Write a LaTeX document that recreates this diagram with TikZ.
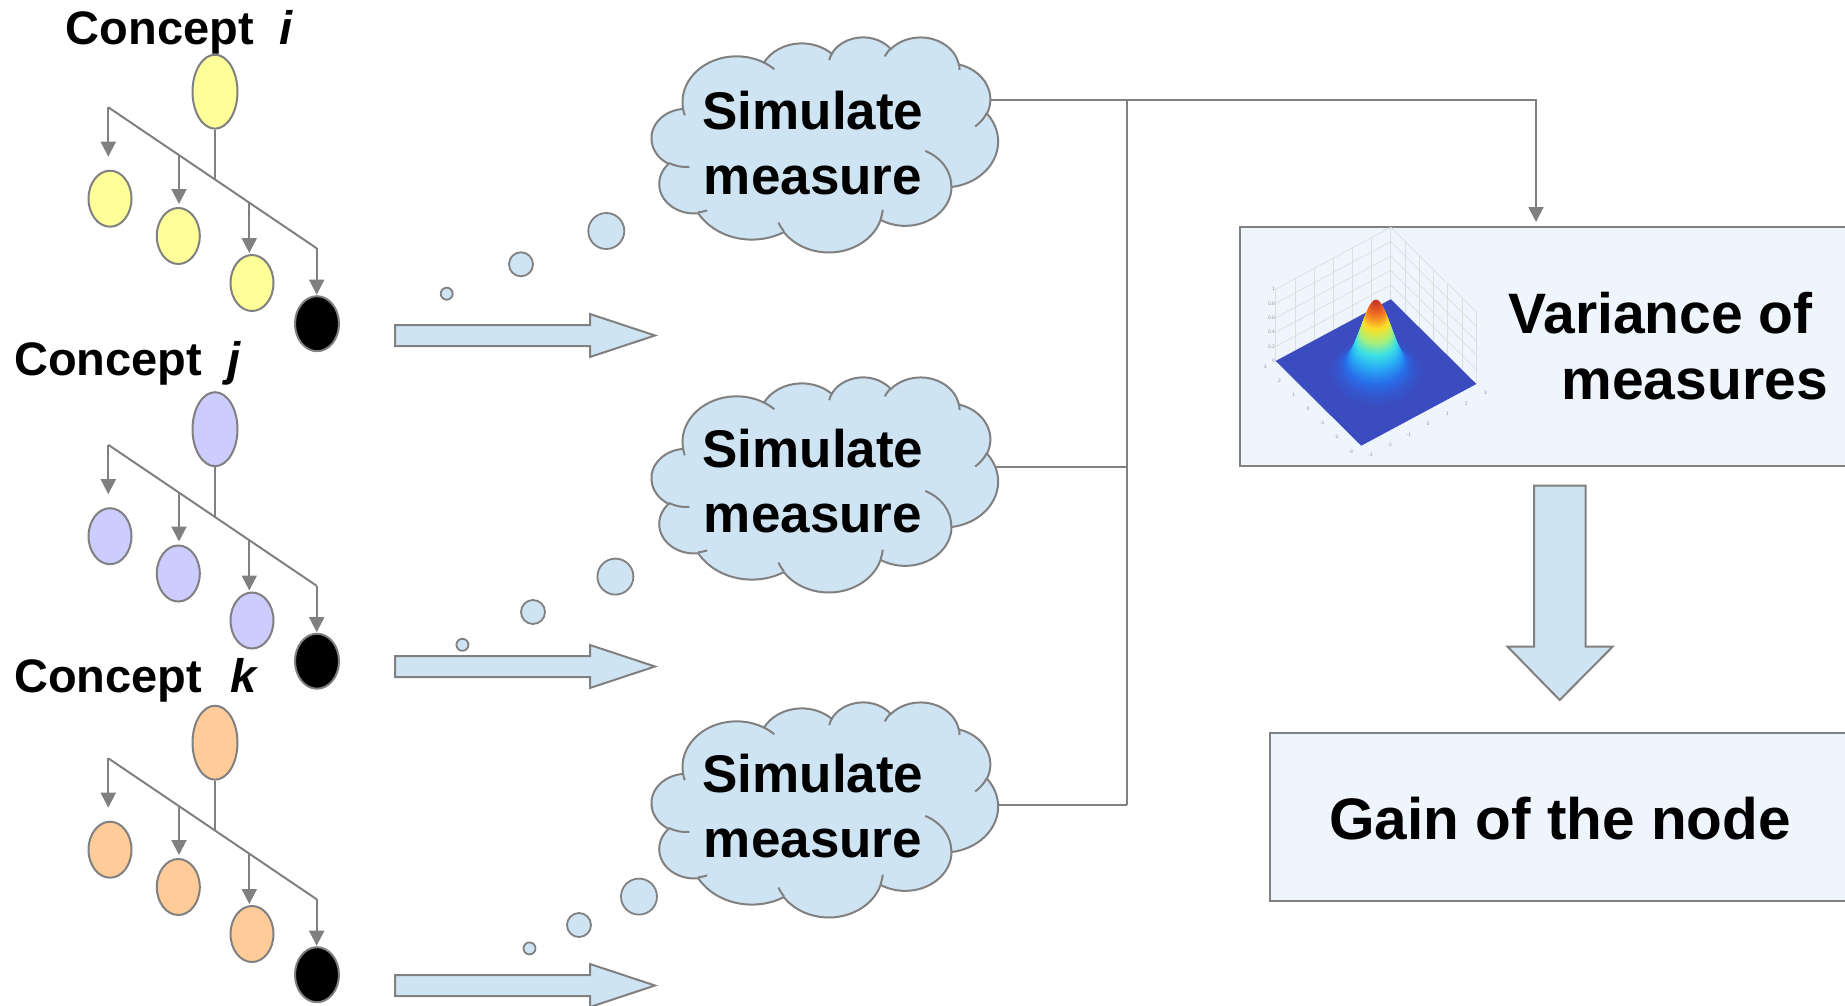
\documentclass[tikz,border=0pt]{standalone}
\usepackage{fontspec}
\setmainfont{Liberation Sans}
\usetikzlibrary{arrows.meta,shapes.geometric}

\definecolor{lineg}{RGB}{128,128,128}
\definecolor{skyfill}{RGB}{207,228,243}
\definecolor{boxfill}{RGB}{239,245,252}
\definecolor{nodeyellow}{RGB}{255,255,153}
\definecolor{nodelav}{RGB}{204,204,255}
\definecolor{nodepeach}{RGB}{255,204,153}
\definecolor{gridg}{RGB}{222,222,222}
\definecolor{tickg}{RGB}{150,150,150}
% colour stops for the surface plot
\definecolor{j0}{RGB}{58,76,192}
\definecolor{j1}{RGB}{40,110,235}
\definecolor{j2}{RGB}{40,170,245}
\definecolor{j3}{RGB}{60,225,230}
\definecolor{j4}{RGB}{170,240,120}
\definecolor{j5}{RGB}{250,225,40}
\definecolor{j6}{RGB}{245,120,35}
\definecolor{j7}{RGB}{200,50,40}

\tikzset{
  link/.style={draw=lineg, line width=2pt},
  tipped/.style={-{Triangle[width=15pt,length=15pt]}},
  concept/.style={ellipse, draw=lineg, line width=2pt, inner sep=0pt},
  rootnode/.style={concept, minimum width=45pt, minimum height=74pt},
  leafnode/.style={concept, minimum width=43pt, minimum height=56pt},
  cloudskin/.style={fill=skyfill, draw=lineg, line width=2pt},
  cloudcrease/.style={draw=lineg, line width=2pt},
  blockarrow/.style={fill=skyfill, draw=lineg, line width=2pt, line join=miter},
  bubble/.style={fill=skyfill, draw=lineg, line width=1.8pt},
  panel/.style={fill=boxfill, draw=lineg, line width=2pt, inner sep=0pt},
  simtext/.style={font=\fontsize{53}{65}\selectfont\bfseries, align=center, inner sep=0pt},
  conceptlabel/.style={font=\fontsize{47}{56}\selectfont\bfseries, anchor=base west, inner sep=0pt},
  ticklabel/.style={font=\fontsize{5}{6}\selectfont, text=tickg, inner sep=0.5pt},
}

% elliptic arc given by radii and start / sweep angles measured along the ray
\newcommand\oarc[4]{arc[x radius=#1, y radius=#2,
  start angle={atan2(#1*sin(#3),#2*cos(#3))},
  delta angle={mod(atan2(#1*sin((#3)+(#4)),#2*cos((#3)+(#4)))-atan2(#1*sin(#3),#2*cos(#3))+720,360)}]}

% thought cloud, top-left corner at (#1,#2)
\newcommand\simcloud[2]{%
\begin{scope}[shift={(#1pt,-#2pt)},x=0.8016pt,y=-0.4977pt]
\path[cloudskin] (39,143.7) \oarc{67.53}{91.90}{-190.4875}{123.7805}
  \oarc{53.33}{72.67}{-144.1024}{89.9452} \oarc{43.65}{59.45}{-145.8079}{99.7230}
  \oarc{48.57}{65.95}{-130.9861}{117.2417} \oarc{53.33}{72.73}{-78.7089}{109.0269}
  \oarc{67.75}{92.20}{-46.2673}{130.2690} \oarc{57.85}{78.67}{0.6250}{114.0333}
  \oarc{67.52}{92.15}{22.4516}{115.1726} \oarc{77.20}{105.43}{66.2426}{75.7110}
  \oarc{43.60}{59.18}{-274.9421}{146.7356} \oarc{43.45}{59.45}{-246.8285}{152.5189} -- cycle;
\path[cloudcrease] (46.93,261.77) \oarc{43.45}{59.45}{86.7420}{26.4295}
  (69.28,348.99) \oarc{43.60}{59.18}{73.6105}{11.4475}
  (164.78,390.90) \oarc{67.52}{92.15}{137.6242}{14.0811}
  (288.27,347.51) \oarc{67.52}{92.15}{6.4533}{15.9984}
  (341.29,229.54) \oarc{57.85}{78.67}{-70.2924}{70.9174}
  (417.98,153.54) \oarc{53.33}{72.73}{30.3180}{27.7515}
  (383.24,54.26) \oarc{48.57}{65.95}{-13.7443}{14.8589}
  (290.78,39.52) \oarc{48.57}{65.95}{-149.1815}{18.1954}
  (221.41,47.20) \oarc{43.65}{59.45}{-163.4943}{17.6864}
  (140.00,51.92) \oarc{67.53}{91.90}{-66.7070}{12.3194}
  (41.27,157.89) \oarc{67.53}{91.90}{157.6544}{11.8582};
\end{scope}}

% concept tree: #1 name prefix, #2 vertical offset, #3 fill colour
\newcommand\concepttree[3]{%
\begin{scope}[yshift=-#2pt]
  \node[rootnode, fill=#3] (#1root) at (215,91.7) {};
  \node[leafnode, fill=#3] (#1a) at (110,198.7) {};
  \node[leafnode, fill=#3] (#1b) at (178.3,236) {};
  \node[leafnode, fill=#3] (#1c) at (252,283) {};
  \node[leafnode, fill=black, minimum width=44pt, minimum height=55pt] (#1d) at (317,323.7) {};
  \coordinate (#1p0) at (108.3,107.3);
  \coordinate (#1p1) at (179,155.1);
  \coordinate (#1ps) at (215,179.5);
  \coordinate (#1p2) at (249.3,202.7);
  \coordinate (#1p3) at (316.7,248.3);
  \draw[link] (#1root.south) -- (#1ps);
  \draw[link] (#1p0) -- (#1p3);
  \draw[link,tipped,shorten >=13pt] (#1p0) -- (#1p0 |- #1a.north);
  \draw[link,tipped,shorten >=3pt] (#1p1) -- (#1p1 |- #1b.north);
  \draw[link,tipped,shorten >=1pt] (#1p2) -- (#1p2 |- #1c.north);
  \draw[link,tipped,shorten >=0.5pt] (#1p3) -- (#1p3 |- #1d.north);
\end{scope}}

% wide block arrow pointing right
\newcommand\rightblock[1]{%
\begin{scope}[yshift=-#1pt]
  \draw[blockarrow] (395,325) -- (590,325) -- (590,314) -- (655,335.5)
    -- (590,357) -- (590,346) -- (395,346) -- cycle;
\end{scope}}

\begin{document}
\begin{tikzpicture}[x=1pt,y=-1pt]
\useasboundingbox (0,0) rectangle (1845,1006);

% ---------------- concept trees
\node[conceptlabel] (labi) at (65.7,45) {Concept\hspace{26pt}\textit{i}};
\node[conceptlabel] (labj) at (14,375) {Concept\hspace{25pt}\textit{j}};
\node[conceptlabel] (labk) at (14,692.3) {Concept\hspace{28pt}\textit{k}};
\concepttree{ti}{0}{nodeyellow}
\concepttree{tj}{337.5}{nodelav}
\concepttree{tk}{651}{nodepeach}

% ---------------- block arrows and thought bubbles
\rightblock{0}
\rightblock{331}
\rightblock{650}
\draw[bubble] (446.7,293.7) circle[radius=6];
\draw[bubble] (521,264.3) circle[radius=12];
\draw[bubble] (606.3,231) circle[radius=18];
\draw[bubble] (462.4,644.8) circle[radius=6];
\draw[bubble] (533,612) circle[radius=12];
\draw[bubble] (615.4,576.6) circle[radius=18];
\draw[bubble] (529.5,948.4) circle[radius=6];
\draw[bubble] (579,925) circle[radius=12];
\draw[bubble] (639,896.6) circle[radius=18];

% ---------------- collecting lines (under the clouds)
\coordinate (o1) at (985,100);
\coordinate (o2) at (985,467);
\coordinate (o3) at (985,805);
\coordinate (bus1) at (1126.5,100);
\coordinate (bus2) at (1126.5,467);
\coordinate (bus3) at (1126.5,805);
\coordinate (vin) at (1536,226);
\draw[link] (bus1) -- (bus3);
\draw[link] (o2) -- (bus2);
\draw[link] (o3) -- (bus3);
\draw[link,tipped,shorten >=4pt] (o1) -| (vin);

% ---------------- clouds
\simcloud{651.7}{36.7}
\simcloud{651.7}{376.7}
\simcloud{651.7}{701.7}
\node[simtext] (sim1) at (813,143.1) {Simulate\\measure};
\node[simtext] (sim2) at (813,481.1) {Simulate\\measure};
\node[simtext] (sim3) at (813,806.1) {Simulate\\measure};

% ---------------- variance panel
\node[panel, anchor=north west, minimum width=640pt, minimum height=239pt] (var) at (1239,226) {};
\begin{scope}[shift={(1376pt,-372.5pt)}, x={(19.18pt,10.28pt)}, y={(14.25pt,-14.12pt)}, z={(0pt,72pt)}]
  % back walls of the plot box
  \foreach \t in {-3,...,3} {
    \draw[gridg, line width=0.7pt] (\t,-3,0) -- (\t,-3,1);
    \draw[gridg, line width=0.7pt] (3,\t,0) -- (3,\t,1);
  }
  \foreach \h in {0,...,5} {
    \draw[gridg, line width=0.7pt] (-3,-3,\h/5) -- (3,-3,\h/5) -- (3,3,\h/5);
  }
  % base plane
  \fill[j0] (-3,-3,0) -- (3,-3,0) -- (3,3,0) -- (-3,3,0) -- cycle;
  % Gaussian bump, stacked level sets
  \foreach \k in {1,...,70} {
    \pgfmathsetmacro\zlev{0.015+0.98*(\k-1)/69}
    \pgfmathsetmacro\rlev{0.65*sqrt(-2*ln(\zlev))}
    \pgfmathsetmacro\sv{\zlev*7}
    \pgfmathtruncatemacro\segA{min(floor(\sv),6)}
    \pgfmathtruncatemacro\segB{\segA+1}
    \pgfmathsetmacro\pcent{100*(\sv-\segA)}
    \fill[color=j\segB!\pcent!j\segA] (0,0,\zlev) circle[radius=\rlev];
  }
  % tick labels
  \foreach \t [evaluate=\t as \nt using int(-\t)] in {-3,...,3} {
    \node[ticklabel] (xt\nt) at (-3.55,\t,0) {\nt};
    \node[ticklabel] (yt\t) at (\t,3.65,0) {\t};
  }
  \foreach \h/\lab in {0/0,1/0.2,2/0.4,3/0.6,4/0.8,5/1} {
    \node[ticklabel, anchor=east] (zt\h) at (-3,-3,\h/5) {\lab};
  }
\end{scope}
\node[font=\fontsize{57}{66}\selectfont\bfseries, align=right, anchor=east, inner sep=0pt] (vartext)
  at (1828,346.2) {Variance of\hspace*{15pt}\\measures};

% ---------------- down arrow and gain panel
\draw[blockarrow] (1534.2,485.7) -- (1585.6,485.7) -- (1585.6,646.7) -- (1612.6,646.7)
  -- (1559.7,700) -- (1507.6,646.7) -- (1534.2,646.7) -- cycle;
\node[panel, anchor=north west, minimum width=610pt, minimum height=168.3pt] (gain) at (1269,731.7) {};
\node[font=\fontsize{58.5}{64}\selectfont\bfseries, anchor=base, inner sep=0pt] (gaintext)
  at (1560,839) {Gain of the node};
\end{tikzpicture}
\end{document}
